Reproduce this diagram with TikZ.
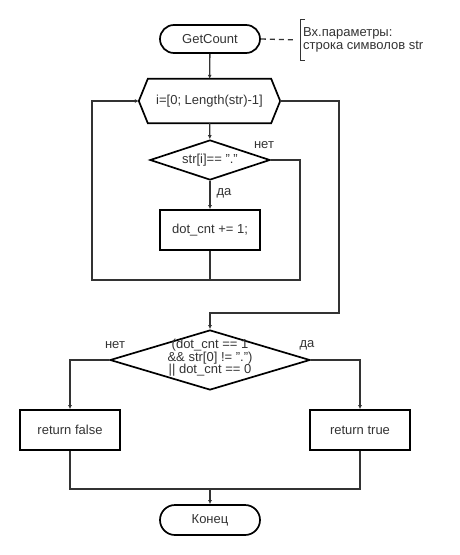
\documentclass[tikz,border=0pt]{standalone}
\usepackage{fontspec}
\setmainfont{Liberation Sans}
\usetikzlibrary{shapes.geometric,arrows.meta}
\definecolor{ln}{HTML}{333333}
\begin{document}
\begin{tikzpicture}[x=1pt,y=-1pt, font=\fontsize{13}{12.5}\selectfont,
  shp/.style={draw=black, line width=1.7pt, text=ln},
  term/.style={shp, rounded corners=14pt, minimum width=100pt, minimum height=28pt, inner sep=0pt},
  proc/.style={shp, minimum width=100pt, minimum height=40pt, inner sep=0pt},
  dia/.style={shp, diamond, inner sep=0pt},
  conn/.style={draw=ln, line width=1.3pt},
  arr/.style={conn, -{Latex[length=4pt,width=4pt]}},
  lbl/.style={text=ln, inner sep=0pt}]
\useasboundingbox (0,0) rectangle (460,555);

% nodes
\node[term] (start) at (210,39) {GetCount};
\node[lbl, minimum width=141pt, minimum height=44pt] (loop) at (209.5,101) {i=[0; Length(str)-1]};
\draw[shp] (loop.west) -- ([xshift=9pt]loop.north west) -- ([xshift=-9pt]loop.north east)
  -- (loop.east) -- ([xshift=-9pt]loop.south east) -- ([xshift=9pt]loop.south west) -- cycle;
\node[dia, minimum width=120pt, minimum height=40pt] (d1) at (210,160) {};
\node[lbl] (d1t) at (210,160) {str[i]== "."};
\node[proc] (box1) at (210,230) {dot\_cnt += 1;};
\node[dia, minimum width=200pt, minimum height=60pt] (d2) at (210,360) {};
\node[lbl, align=center] (d2t) at (210,358) {(dot\_cnt == 1\\\&\& str[0] != ".")\\|| dot\_cnt == 0};
\node[proc] (rf) at (70,430) {return false};
\node[proc] (rt) at (360,430) {return true};
\node[term, minimum height=30pt, rounded corners=15pt] (end) at (210,520) {Конец};

% comment
\node[lbl, anchor=west, align=left, inner xsep=3pt, minimum height=40pt] (note) at (300,40)
  {Вх.параметры:\\строка символов str};
\draw[conn, line width=1pt] ([xshift=5pt]note.north west) -- (note.north west) -- (note.south west) -- ([xshift=5pt]note.south west);
\draw[conn, dash pattern=on 5pt off 4pt, shorten >=5pt] (start.east) -- (note.west);

% coordinates
\coordinate (j1) at (210,280);
\coordinate (bl) at (92,280);
\coordinate (br) at (300,280);
\coordinate (r1) at (339,313);
\coordinate (j2) at (210,489);

% connectors
\draw[arr] (start) -- (loop);
\draw[arr] (loop) -- (d1);
\draw[arr] (d1) -- (box1);
\draw[arr] (box1.south) -- (j1) -- (bl) |- (loop.west);
\draw[conn] (d1.east) -| (br) -- (j1);
\draw[arr] (loop.east) -| (r1) -| (d2.north);
\draw[arr] (d2.west) -| (rf.north);
\draw[arr] (d2.east) -| (rt.north);
\draw[conn] (rf.south) |- (j2);
\draw[conn] (rt.south) |- (j2);
\draw[arr] (j2) -- (end);

% labels
\node[lbl] (l1) at (264,145) {нет};
\node[lbl] (l2) at (224,193) {да};
\node[lbl] (l3) at (115,345) {нет};
\node[lbl] (l4) at (307,345) {да};
\end{tikzpicture}
\end{document}
